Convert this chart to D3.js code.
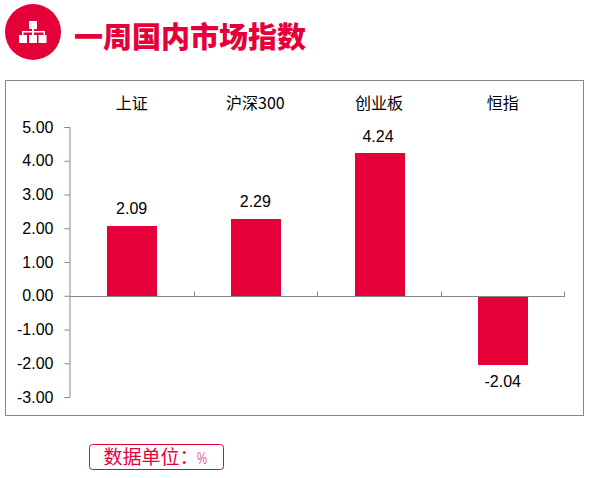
<!DOCTYPE html>
<html>
<head>
<meta charset="utf-8">
<script src="https://cdn.jsdelivr.net/npm/d3@7"></script>
<style>
  body { margin: 0; background: #fff; }
  text { font-family: "Liberation Sans", Arial, sans-serif; fill: #000; }
  .cjk { font-family: "Noto Sans CJK SC", sans-serif; }
</style>
</head>
<body>
<div id="chart"></div>
<script>
let categories = ["上证", "沪深300", "创业板", "恒指"]
let values = [2.09, 2.29, 4.24, -2.04]
let tickValues = [5, 4, 3, 2, 1, 0, -1, -2, -3]

let red = "#e60039"
let grey = "#868686"

let svg = d3.select("#chart").append("svg")
  .attr("width", 607)
  .attr("height", 478)
  .style("display", "block")

// header icon
svg.append("circle").attr("cx", 33).attr("cy", 32).attr("r", 28).attr("fill", red)
let icon = svg.append("g").attr("fill", "#fff")
icon.append("rect").attr("x", 29).attr("y", 21).attr("width", 8).attr("height", 8)
icon.append("rect").attr("x", 32).attr("y", 29).attr("width", 2).attr("height", 6)
icon.append("rect").attr("x", 22).attr("y", 31).attr("width", 23).attr("height", 1.5)
icon.append("rect").attr("x", 22).attr("y", 31).attr("width", 1.5).attr("height", 4)
icon.append("rect").attr("x", 43.5).attr("y", 31).attr("width", 1.5).attr("height", 4)
icon.append("rect").attr("x", 19).attr("y", 35).attr("width", 8).attr("height", 8)
icon.append("rect").attr("x", 29).attr("y", 35).attr("width", 8).attr("height", 8)
icon.append("rect").attr("x", 38.5).attr("y", 35).attr("width", 8).attr("height", 8)

svg.append("text").attr("class", "cjk")
  .attr("x", 74).attr("y", 48)
  .style("font-size", "29px").style("font-weight", 900).style("fill", red)
  .text("一周国内市场指数")

// chart frame
svg.append("rect")
  .attr("x", 5.5).attr("y", 80.5).attr("width", 578).attr("height", 335)
  .attr("fill", "#fff").attr("stroke", grey)

let x = d3.scaleBand().domain(categories).range([70.3, 565.1])
let y = d3.scaleLinear().domain([-3, 5]).range([397, 127])

let zero = Math.round(y(0)) + 0.5

// y axis
let yAxis = svg.append("g").attr("transform", "translate(69.5,0)")
  .call(d3.axisLeft(y).tickValues(tickValues).tickFormat(d3.format(".2f")).tickSize(5).tickPadding(11))
yAxis.selectAll("line, path").attr("stroke", grey)
yAxis.selectAll("text").style("font-size", "16px")
  .text(d => d3.format(".2f")(d).replace("−", "-"))

// bars
svg.selectAll(".bar").data(values).enter().append("rect")
  .attr("class", "bar")
  .attr("x", (d, i) => Math.round(x(categories[i]) + x.bandwidth() / 2 - 25))
  .attr("width", 50)
  .attr("y", d => d > 0 ? Math.ceil(y(d)) : zero)
  .attr("height", d => d > 0 ? zero - Math.ceil(y(d)) : Math.ceil(y(d)) - zero)
  .attr("fill", red)

// x axis, ticks point up between the categories
let xAxis = svg.append("g")
xAxis.append("line")
  .attr("x1", 69.5).attr("x2", 565)
  .attr("y1", zero).attr("y2", zero)
  .attr("stroke", grey)
categories.forEach((c) => {
  let tx = Math.floor(x(c) + x.bandwidth()) + 0.5
  if (tx > 565) tx = 564.5
  xAxis.append("line")
    .attr("x1", tx).attr("x2", tx)
    .attr("y1", zero - 5).attr("y2", zero)
    .attr("stroke", grey)
})

// category labels on top
svg.selectAll(".cat").data(categories).enter().append("text")
  .attr("class", "cat")
  .attr("x", d => x(d) + x.bandwidth() / 2 - 0.5)
  .attr("y", 109)
  .attr("text-anchor", "middle")
  .style("font-size", "16px")
  .style("font-family", "'Noto Sans CJK SC', sans-serif")
  .text(d => d)

// value labels
svg.selectAll(".val").data(values).enter().append("text")
  .attr("class", "val")
  .attr("x", (d, i) => x(categories[i]) + x.bandwidth() / 2 - (i == 2 ? 1.5 : 0.5))
  .attr("y", d => d > 0 ? y(d) - 11 : y(d) + 22)
  .attr("text-anchor", "middle")
  .style("font-size", "16px")
  .text(d => d.toFixed(2))

// unit note
svg.append("rect")
  .attr("x", 89.5).attr("y", 444.5).attr("width", 134).attr("height", 25).attr("rx", 3)
  .attr("fill", "#fff").attr("stroke", red)
svg.append("text").attr("class", "cjk")
  .attr("x", 103.5).attr("y", 463.5)
  .style("font-size", "19px").style("fill", red)
  .text("数据单位：")
svg.append("text")
  .attr("x", 197).attr("y", 464)
  .attr("textLength", 10)
  .attr("lengthAdjust", "spacingAndGlyphs")
  .style("font-size", "17px").style("fill", "#f0608a")
  .text("%")
</script>
</body>
</html>
